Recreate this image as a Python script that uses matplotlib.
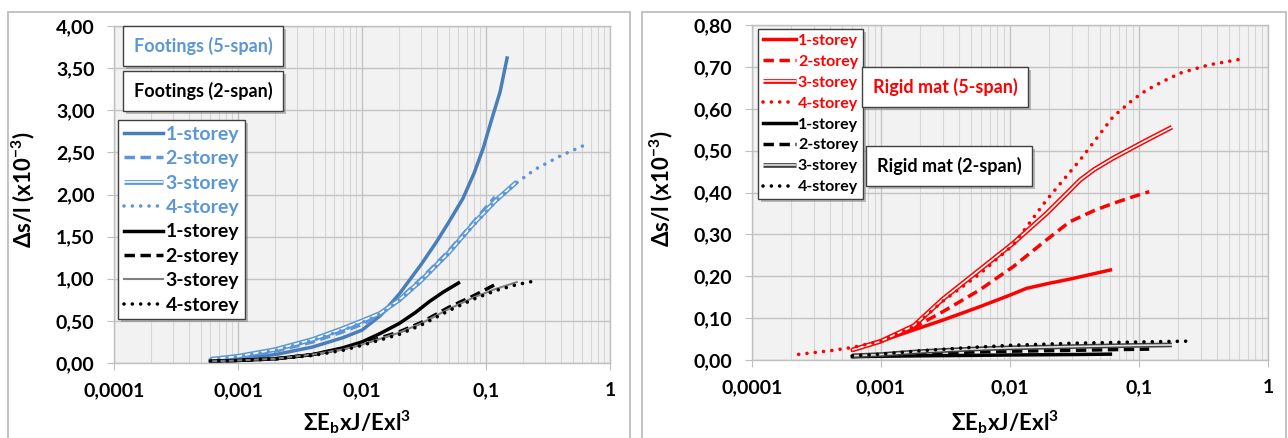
import matplotlib
matplotlib.use('Agg')
import matplotlib.pyplot as plt
import matplotlib.patheffects as pe
from matplotlib.lines import Line2D
from matplotlib.legend_handler import HandlerTuple
from matplotlib.patches import Rectangle
from matplotlib.ticker import FixedLocator, LogLocator, NullFormatter, FuncFormatter

plt.rcParams['font.family'] = ['Lato', 'DejaVu Sans']
plt.rcParams['mathtext.fontset'] = 'custom'
plt.rcParams['mathtext.rm'] = 'Lato:bold'
plt.rcParams['mathtext.it'] = 'Lato:bold'
plt.rcParams['mathtext.bf'] = 'Lato:bold'

W, H = 1288, 438

# ------------------------------------------------------------
# Data - footings (left)
# ------------------------------------------------------------
ft5_x1 = [0.0006, 0.001, 0.002, 0.004, 0.007, 0.01, 0.014, 0.02, 0.03, 0.04, 0.05, 0.065, 0.08, 0.095, 0.11, 0.13, 0.148]
ft5_y1 = [0.03, 0.05, 0.10, 0.19, 0.30, 0.39, 0.56, 0.82, 1.17, 1.44, 1.67, 1.95, 2.25, 2.55, 2.87, 3.22, 3.62]
ft5_x2 = [0.0006, 0.001, 0.002, 0.004, 0.007, 0.01, 0.014, 0.02, 0.03, 0.05, 0.08, 0.118]
ft5_y2 = [0.04, 0.07, 0.14, 0.25, 0.37, 0.46, 0.57, 0.76, 1.00, 1.33, 1.68, 1.97]
ft5_x3 = [0.0006, 0.001, 0.002, 0.004, 0.007, 0.01, 0.014, 0.02, 0.03, 0.05, 0.08, 0.12, 0.177]
ft5_y3 = [0.045, 0.08, 0.16, 0.28, 0.41, 0.50, 0.59, 0.75, 0.98, 1.31, 1.66, 1.93, 2.15]
ft5_x4 = [0.0006, 0.001, 0.002, 0.004, 0.007, 0.01, 0.014, 0.02, 0.03, 0.05, 0.08, 0.12, 0.177, 0.25, 0.4, 0.61]
ft5_y4 = [0.04, 0.075, 0.15, 0.27, 0.39, 0.48, 0.58, 0.74, 0.97, 1.30, 1.64, 1.92, 2.14, 2.30, 2.46, 2.58]

ft2_x1 = [0.0006, 0.001, 0.002, 0.004, 0.007, 0.01, 0.014, 0.02, 0.027, 0.035, 0.045, 0.06]
ft2_y1 = [0.02, 0.03, 0.05, 0.10, 0.18, 0.25, 0.35, 0.47, 0.60, 0.73, 0.84, 0.95]
ft2_x2 = [0.0006, 0.001, 0.002, 0.004, 0.007, 0.01, 0.02, 0.03, 0.05, 0.08, 0.118]
ft2_y2 = [0.02, 0.03, 0.05, 0.10, 0.17, 0.23, 0.37, 0.48, 0.66, 0.80, 0.93]
ft2_x3 = [0.0006, 0.001, 0.002, 0.004, 0.007, 0.01, 0.02, 0.03, 0.05, 0.08, 0.12, 0.177]
ft2_y3 = [0.02, 0.03, 0.05, 0.10, 0.16, 0.22, 0.36, 0.47, 0.64, 0.78, 0.88, 0.96]
ft2_x4 = [0.0006, 0.001, 0.002, 0.004, 0.007, 0.01, 0.02, 0.03, 0.05, 0.08, 0.12, 0.177, 0.24]
ft2_y4 = [0.02, 0.03, 0.05, 0.09, 0.15, 0.21, 0.34, 0.45, 0.62, 0.76, 0.86, 0.93, 0.97]

# ------------------------------------------------------------
# Data - rigid mat (right)
# ------------------------------------------------------------
rm5_x1 = [0.0006, 0.001, 0.0018, 0.003, 0.0058, 0.01, 0.0134, 0.02, 0.03, 0.06]
rm5_y1 = [0.024, 0.045, 0.072, 0.095, 0.127, 0.155, 0.171, 0.183, 0.194, 0.215]
rm5_x2 = [0.0006, 0.001, 0.0018, 0.003, 0.0058, 0.0106, 0.0192, 0.029, 0.045, 0.063, 0.09, 0.12]
rm5_y2 = [0.024, 0.045, 0.078, 0.115, 0.167, 0.223, 0.287, 0.33, 0.357, 0.374, 0.39, 0.402]
rm5_x3 = [0.0006, 0.001, 0.0018, 0.003, 0.0058, 0.0106, 0.0192, 0.028, 0.035, 0.045, 0.063, 0.115, 0.18]
rm5_y3 = [0.024, 0.045, 0.082, 0.145, 0.215, 0.279, 0.35, 0.40, 0.43, 0.455, 0.482, 0.525, 0.556]
rm5_x4 = [0.00023, 0.0004, 0.0006, 0.001, 0.0018, 0.003, 0.0058, 0.0106, 0.0192, 0.035, 0.063, 0.09, 0.115, 0.16, 0.208, 0.35, 0.607]
rm5_y4 = [0.0135, 0.022, 0.03, 0.045, 0.08, 0.14, 0.205, 0.275, 0.382, 0.478, 0.581, 0.622, 0.645, 0.668, 0.685, 0.705, 0.718]

rm2_x1 = [0.0006, 0.001, 0.002, 0.005, 0.01, 0.03, 0.06]
rm2_y1 = [0.008, 0.009, 0.010, 0.011, 0.012, 0.013, 0.014]
rm2_x2 = [0.0006, 0.001, 0.002, 0.005, 0.01, 0.03, 0.07, 0.12]
rm2_y2 = [0.008, 0.011, 0.015, 0.019, 0.021, 0.023, 0.025, 0.026]
rm2_x3 = [0.0006, 0.001, 0.002, 0.005, 0.01, 0.03, 0.1, 0.18]
rm2_y3 = [0.010, 0.013, 0.020, 0.026, 0.029, 0.032, 0.035, 0.036]
rm2_x4 = [0.0006, 0.001, 0.002, 0.005, 0.01, 0.03, 0.1, 0.24]
rm2_y4 = [0.010, 0.014, 0.022, 0.030, 0.035, 0.040, 0.043, 0.045]

storeys = ['1-storey', '2-storey', '3-storey', '4-storey']
left_yticks = [0.0, 0.5, 1.0, 1.5, 2.0, 2.5, 3.0, 3.5, 4.0]
right_yticks = [0.0, 0.1, 0.2, 0.3, 0.4, 0.5, 0.6, 0.7, 0.8]
xticks = [0.0001, 0.001, 0.01, 0.1, 1]
xtick_labels = ['0,0001', '0,001', '0,01', '0,1', '1']

BLUE_D = '#4A7EBB'
BLUE = '#5B96D6'
RED = '#FF0000'
DASH = (0, (3.0, 1.6))
DOT = (0, (0.01, 2.3))


def fig_xy(px, py):
    return px / W, 1 - py / H


def draw_series(ax, x, y, color, style, lw=2.5, inner=None):
    if style == 'double':
        ax.plot(x, y, color=color, lw=3.4, solid_capstyle='butt', solid_joinstyle='round')
        ax.plot(x, y, color=inner, lw=1.2, solid_capstyle='butt', solid_joinstyle='round')
    elif style == 'dot':
        ax.plot(x, y, color=color, lw=2.6, linestyle=DOT, dash_capstyle='round')
    elif style == 'dash':
        ax.plot(x, y, color=color, lw=lw, linestyle=DASH)
    else:
        ax.plot(x, y, color=color, lw=lw, solid_joinstyle='round')


def handle(color, style, lw=2.5, inner=None):
    if style == 'double':
        return (Line2D([], [], color=color, lw=3.4, solid_capstyle='butt'),
                Line2D([], [], color=inner, lw=1.2, solid_capstyle='butt'))
    if style == 'dot':
        return Line2D([], [], color=color, lw=2.6, linestyle=DOT, dash_capstyle='round')
    if style == 'dash':
        return Line2D([], [], color=color, lw=lw, linestyle=DASH)
    return Line2D([], [], color=color, lw=lw)


def style_axes(ax, yticks, ytop):
    ax.set_facecolor('#F2F2F2')
    ax.set_xscale('log')
    ax.set_xlim(0.0001, 1)
    ax.set_ylim(0, ytop)
    ax.xaxis.set_major_locator(FixedLocator(xticks))
    ax.xaxis.set_major_formatter(FuncFormatter(lambda v, p: xtick_labels[xticks.index(v)] if v in xticks else ''))
    ax.xaxis.set_minor_locator(LogLocator(base=10, subs=range(2, 10), numticks=20))
    ax.xaxis.set_minor_formatter(NullFormatter())
    ax.yaxis.set_major_locator(FixedLocator(yticks))
    ax.yaxis.set_major_formatter(FuncFormatter(lambda v, p: f'{v:.2f}'.replace('.', ',')))
    ax.grid(True, which='major', color='#C4C4C4', lw=1.0)
    ax.grid(True, which='minor', axis='x', color='#D6D6D6', lw=0.8)
    ax.set_axisbelow(True)
    for s in ax.spines.values():
        s.set_color('#BFBFBF')
        s.set_linewidth(1.0)
    ax.tick_params(which='major', length=5, color='#BFBFBF', pad=9, labelsize=14)
    ax.tick_params(which='minor', length=0)
    for lab in ax.get_xticklabels() + ax.get_yticklabels():
        lab.set_fontweight('bold')
    ax.set_xlabel(r'ΣE$_\mathrm{b}$xJ/Exl$^\mathrm{3}$', fontsize=16, fontweight='bold')
    ax.set_ylabel(r'Δs/l (x10$^\mathrm{-3}$)', fontsize=16, fontweight='bold')


def text_box(fig, px, py, s, color, fs=13):
    x, y = fig_xy(px, py)
    t = fig.text(x, y, s, ha='center', va='center', fontsize=fs, color=color,
                 fontweight='bold',
                 bbox=dict(boxstyle='square,pad=0.6', fc='white', ec='#404040', lw=1.0))
    t.get_bbox_patch().set_path_effects([
        pe.SimplePatchShadow(offset=(2, -2), shadow_rgbFace='#7F7F7F', alpha=0.5), pe.Normal()])
    return t


fig = plt.figure(figsize=(W / 100, H / 100), dpi=100)

# chart area frames
for fx0, fx1 in [(8, 630), (642, 1286)]:
    x0, _ = fig_xy(fx0, 0)
    x1, _ = fig_xy(fx1, 0)
    fig.patches.append(Rectangle((x0, -0.05), x1 - x0, 1 - 12 / H + 0.05, transform=fig.transFigure,
                                 fc='white', ec='#BFBFBF', lw=1.3, zorder=-1))

axL = fig.add_axes([114 / W, (H - 363) / H, 496 / W, 337 / H])
axR = fig.add_axes([752 / W, (H - 360) / H, 516 / W, 335 / H])

# ---- left panel ----
style_axes(axL, left_yticks, 4.0)
left_series = [
    (ft5_x1, ft5_y1, BLUE_D, 'solid', None),
    (ft5_x2, ft5_y2, BLUE, 'dash', None),
    (ft5_x3, ft5_y3, BLUE, 'double', 'white'),
    (ft5_x4, ft5_y4, BLUE, 'dot', None),
    (ft2_x1, ft2_y1, 'black', 'solid', None),
    (ft2_x2, ft2_y2, 'black', 'dash', None),
    (ft2_x3, ft2_y3, '#808080', 'thin', None),
    (ft2_x4, ft2_y4, 'black', 'dot', None),
]
handlesL = []
for x, y, c, st, inner in left_series:
    if st == 'thin':
        draw_series(axL, x, y, c, 'solid', lw=1.5)
        handlesL.append(handle(c, 'solid', lw=1.5))
    else:
        draw_series(axL, x, y, c, st, inner=inner)
        handlesL.append(handle(c, st, inner=inner))

legL = axL.legend(handlesL, storeys * 2, loc='upper left', bbox_to_anchor=fig_xy(118, 120),
                  bbox_transform=fig.transFigure, fontsize=14, frameon=True, fancybox=False,
                  edgecolor='#404040', framealpha=1, borderpad=0.3, handlelength=2.0,
                  handletextpad=0.15, labelspacing=0.38, borderaxespad=0,
                  labelcolor=[BLUE] * 4 + ['black'] * 4,
                  handler_map={tuple: HandlerTuple(ndivide=1)})
legL.get_frame().set_linewidth(1.0)
legL.get_frame().set_path_effects([
    pe.SimplePatchShadow(offset=(2, -2), shadow_rgbFace='#7F7F7F', alpha=0.5), pe.Normal()])
for t in legL.get_texts():
    t.set_fontweight('bold')

text_box(fig, 203, 46, 'Footings (5-span)', BLUE)
text_box(fig, 203, 91, 'Footings (2-span)', 'black')

# ---- right panel ----
style_axes(axR, right_yticks, 0.8)
right_series = [
    (rm5_x1, rm5_y1, RED, 'solid', None),
    (rm5_x2, rm5_y2, RED, 'dash', None),
    (rm5_x3, rm5_y3, RED, 'double', 'white'),
    (rm5_x4, rm5_y4, RED, 'dot', None),
    (rm2_x1, rm2_y1, 'black', 'solid', None),
    (rm2_x2, rm2_y2, 'black', 'dash', None),
    (rm2_x3, rm2_y3, '#404040', 'double', '#E0E0E0'),
    (rm2_x4, rm2_y4, 'black', 'dot', None),
]
handlesR = []
for x, y, c, st, inner in right_series:
    draw_series(axR, x, y, c, st, inner=inner)
    handlesR.append(handle(c, st, inner=inner))

legR = axR.legend(handlesR, storeys * 2, loc='upper left', bbox_to_anchor=fig_xy(758, 29),
                  bbox_transform=fig.transFigure, fontsize=11.5, frameon=True, fancybox=False,
                  edgecolor='#404040', framealpha=1, borderpad=0.3, handlelength=2.1,
                  handletextpad=0.1, labelspacing=0.42, borderaxespad=0,
                  labelcolor=[RED] * 4 + ['black'] * 4,
                  handler_map={tuple: HandlerTuple(ndivide=1)})
legR.get_frame().set_linewidth(1.0)
legR.get_frame().set_path_effects([
    pe.SimplePatchShadow(offset=(2, -2), shadow_rgbFace='#7F7F7F', alpha=0.5), pe.Normal()])
for t in legR.get_texts():
    t.set_fontweight('bold')

text_box(fig, 945, 87, 'Rigid mat (5-span)', RED)
text_box(fig, 949, 166, 'Rigid mat (2-span)', 'black')

# axis label positions
axL.yaxis.set_label_coords(-0.155, 0.515)
axR.yaxis.set_label_coords(-0.150, 0.51)
axL.xaxis.set_label_coords(0.49, -0.135)
axR.xaxis.set_label_coords(0.49, -0.145)

fig.savefig('out.png', dpi=100)
